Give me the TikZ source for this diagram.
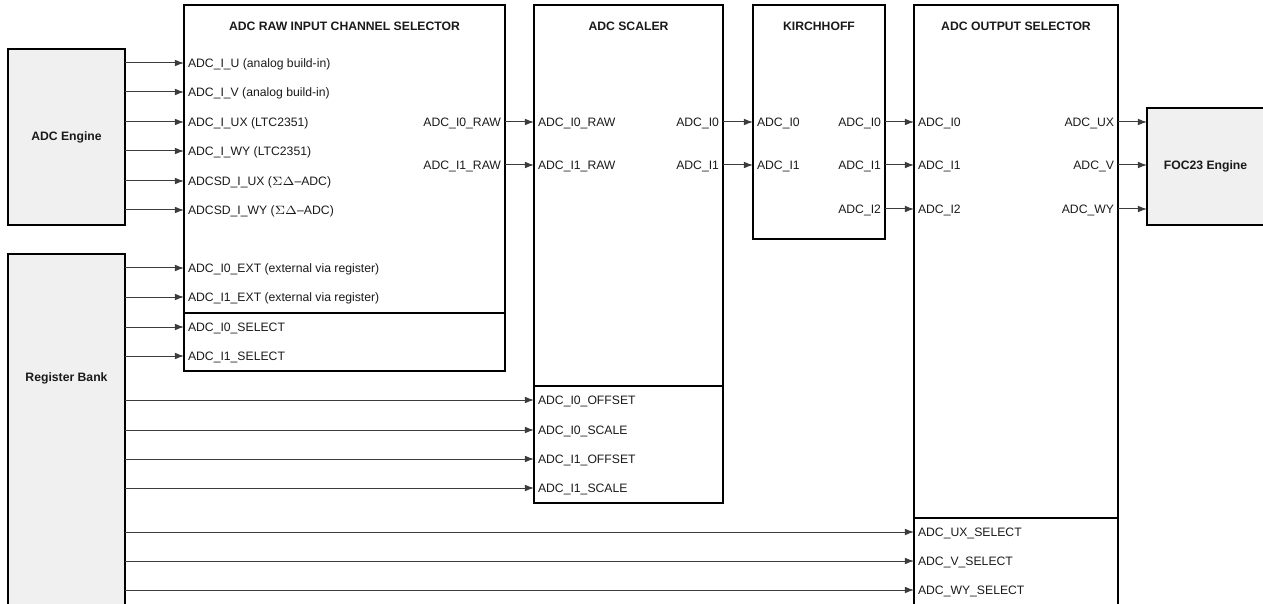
\documentclass[tikz,border=0pt]{standalone}
\usepackage{fontspec}
\setmainfont{Liberation Sans}
\usetikzlibrary{arrows.meta}
\usetikzlibrary{positioning}

\definecolor{boxgrey}{HTML}{F0F0F0}
\definecolor{textgrey}{HTML}{1A1A1A}
\definecolor{wiregrey}{HTML}{3C3C3C}

\begin{document}
\begin{tikzpicture}[x=0.5pt, y=-0.5pt, >={Latex[length=4.6pt,width=3.4pt]},
    font=\fontsize{6.1pt}{7pt}\selectfont, text=textgrey,
    block/.style={draw, line width=1pt, anchor=north west, inner sep=0pt, outer sep=0pt},
    engine/.style={block, fill=boxgrey, font=\fontsize{6.1pt}{7pt}\selectfont\bfseries},
    title/.style={font=\fontsize{6.1pt}{7pt}\selectfont\bfseries, inner sep=0pt},
    pin/.style={inner xsep=2pt, inner ysep=0pt, outer sep=0pt, text height=4.4pt, text depth=0pt},
    pinin/.style={pin, anchor=west},
    pinout/.style={pin, anchor=east},
    wire/.style={->, line width=0.5pt, draw=wiregrey, fill=black}]
    \clip (0,0) rectangle (1263,604);

    % draw blocks
    \node[engine, minimum width=58.5pt, minimum height=88pt] (adc) at (8,49) {ADC Engine};
    \node[engine, minimum width=58.5pt, minimum height=203pt] (regbank) at (8,254) {};
    \node[title] (regbanklbl) at (66.5,378) {Register Bank};
    \node[block, minimum width=160.5pt, minimum height=154pt] (raw) at (184,5) {};
    \node[block, minimum width=160.5pt, minimum height=29pt] (rawcfg) at (184,313) {};
    \node[block, minimum width=94.5pt, minimum height=190.5pt] (scaler) at (534,5) {};
    \node[block, minimum width=94.5pt, minimum height=58.5pt] (scalecfg) at (534,386) {};
    \node[block, minimum width=66pt, minimum height=117pt] (kirch) at (753,5) {};
    \node[block, minimum width=102pt, minimum height=256.5pt] (outsel) at (914,5) {};
    \node[block, minimum width=102pt, minimum height=66pt] (outcfg) at (914,518) {};
    \node[engine, minimum width=58.5pt, minimum height=58.5pt] (foc) at (1147,108) {FOC23 Engine};

    % draw titles
    \node[title, below=8.5pt of raw.north] (rawtitle) {ADC RAW INPUT CHANNEL SELECTOR};
    \node[title, below=8.5pt of scaler.north] (scalertitle) {ADC SCALER};
    \node[title, below=8.5pt of kirch.north] (kirchtitle) {KIRCHHOFF};
    \node[title, below=8.5pt of outsel.north] (outseltitle) {ADC OUTPUT SELECTOR};

    % draw pins of the raw input channel selector
    \foreach \y/\n/\t in {63/iu/{ADC\_I\_U (analog build-in)},
                          92/iv/{ADC\_I\_V (analog build-in)},
                          122/iux/{ADC\_I\_UX (LTC2351)},
                          151/iwy/{ADC\_I\_WY (LTC2351)},
                          181/sdux/{ADCSD\_I\_UX ($\Sigma\Delta$--ADC)},
                          210/sdwy/{ADCSD\_I\_WY ($\Sigma\Delta$--ADC)},
                          268/exti/{ADC\_I0\_EXT (external via register)},
                          297/extii/{ADC\_I1\_EXT (external via register)},
                          327/seli/{ADC\_I0\_SELECT},
                          356/selii/{ADC\_I1\_SELECT}}
      \node[pinin] (\n) at (184,\y) {\t};
    \node[pinout] (rawi) at (505,122) {ADC\_I0\_RAW};
    \node[pinout] (rawii) at (505,165) {ADC\_I1\_RAW};

    % draw pins of the scaler
    \node[pinin] (scrawi) at (534,122) {ADC\_I0\_RAW};
    \node[pinin] (scrawii) at (534,165) {ADC\_I1\_RAW};
    \node[pinout] (sci) at (723,122) {ADC\_I0};
    \node[pinout] (scii) at (723,165) {ADC\_I1};
    \foreach \y/\n/\t in {400/offi/{ADC\_I0\_OFFSET}, 430/scali/{ADC\_I0\_SCALE},
                          459/offii/{ADC\_I1\_OFFSET}, 488/scalii/{ADC\_I1\_SCALE}}
      \node[pinin] (\n) at (534,\y) {\t};

    % draw pins of kirchhoff
    \node[pinin] (kii) at (753,122) {ADC\_I0};
    \node[pinin] (kiii) at (753,165) {ADC\_I1};
    \node[pinout] (koi) at (885,122) {ADC\_I0};
    \node[pinout] (koii) at (885,165) {ADC\_I1};
    \node[pinout] (koiii) at (885,209) {ADC\_I2};

    % draw pins of the output selector
    \node[pinin] (osi) at (914,122) {ADC\_I0};
    \node[pinin] (osii) at (914,165) {ADC\_I1};
    \node[pinin] (osiii) at (914,209) {ADC\_I2};
    \node[pinout] (ux) at (1118,122) {ADC\_UX};
    \node[pinout] (v) at (1118,165) {ADC\_V};
    \node[pinout] (wy) at (1118,209) {ADC\_WY};
    \foreach \y/\n/\t in {532/uxsel/{ADC\_UX\_SELECT}, 561/vsel/{ADC\_V\_SELECT},
                          590/wysel/{ADC\_WY\_SELECT}}
      \node[pinin] (\n) at (914,\y) {\t};

    % draw wires
    \foreach \n in {iu,iv,iux,iwy,sdux,sdwy}
      \draw[wire] (adc.east |- \n.west) -- (\n.west);
    \foreach \n in {exti,extii,seli,selii,offi,scali,offii,scalii,uxsel,vsel,wysel}
      \draw[wire] (regbank.east |- \n.west) -- (\n.west);
    \draw[wire] (rawi.east) -- (scrawi.west);
    \draw[wire] (rawii.east) -- (scrawii.west);
    \draw[wire] (sci.east) -- (kii.west);
    \draw[wire] (scii.east) -- (kiii.west);
    \draw[wire] (koi.east) -- (osi.west);
    \draw[wire] (koii.east) -- (osii.west);
    \draw[wire] (koiii.east) -- (osiii.west);
    \foreach \n in {ux,v,wy}
      \draw[wire] (\n.east) -- (foc.west |- \n.east);
  \end{tikzpicture}
\end{document}
